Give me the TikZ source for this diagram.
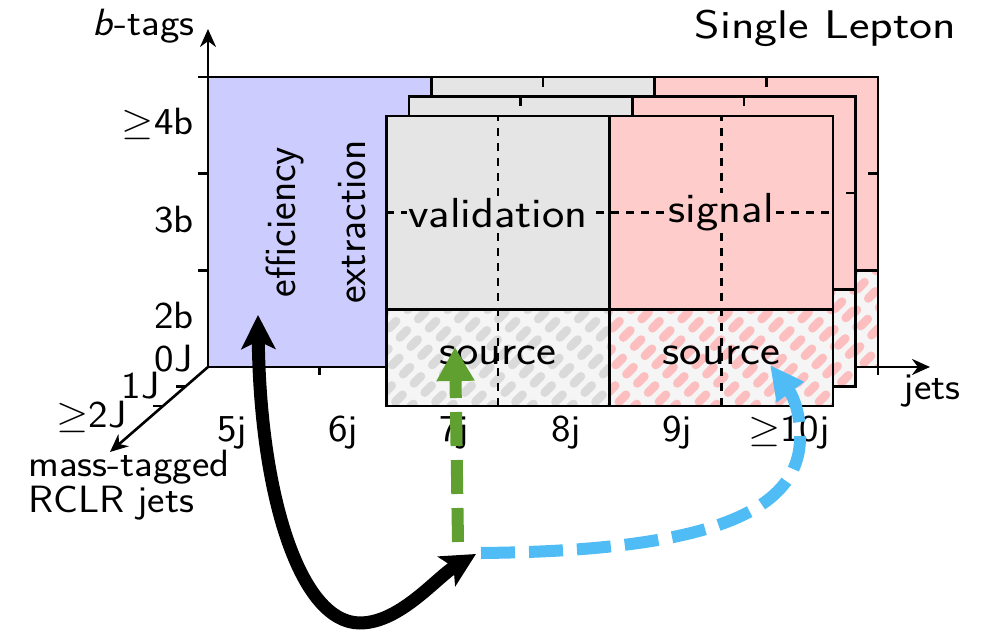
\RequirePackage{fix-cm}
\documentclass[tikz,border=0pt]{standalone}
\usepackage{xcolor}
\definecolor{lila}{RGB}{204,204,255}
\definecolor{grisClaro}{RGB}{229,229,229}
\definecolor{rosa}{RGB}{255,204,204}
\definecolor{grisRaya}{RGB}{218,218,218}
\definecolor{rosaRaya}{RGB}{252,190,190}
\definecolor{verde}{RGB}{96,160,48}
\definecolor{celeste}{RGB}{80,188,245}
\usetikzlibrary{arrows.meta,positioning,calc}
\tikzstyle{celda}  =[draw, line width=1.3pt]
\tikzstyle{marca}  =[line width=1.3pt]
\tikzstyle{rejilla}=[line width=1.3pt, dash pattern=on 4pt off 3.5pt]
\tikzstyle{eje}    =[line width=1.3pt, -{Stealth[length=9pt,width=8pt]}]
\tikzstyle{etiq}   =[font=\fontsize{19}{16.5}\selectfont\sffamily,
                     inner sep=0pt, xscale=1.09]
\tikzstyle{region} =[font=\fontsize{21}{35}\selectfont\sffamily,
                     inner sep=0.5pt]
\tikzstyle{flecha} =[line width=6pt]
\tikzstyle{discont}=[dash pattern=on 17pt off 7pt]

% rayado de las celdas fuente: color, x1, y1, x2, y2
\newcommand{\rayas}[5]{%
  \begin{scope}
    \clip (#2,#3) rectangle (#4,#5);
    \fill[white!96!black] (#2,#3) rectangle (#4,#5);
    \foreach \r in {0,...,17} {
      \pgfmathsetmacro{\fase}{mod(\r,2)*6.5}
      \draw[#1, line width=4.3pt, line cap=round,
            dash pattern=on 5pt off 8pt, dash phase=\fase pt]
        (#2-100+20*\r,#3-5) -- ++(160,160);
    }
  \end{scope}}

\begin{document}
\begin{tikzpicture}[x=0.5pt,y=0.5pt]
    \useasboundingbox (0,0) rectangle (984,635);

    % ejes
    \coordinate (origen) at (208,268);
    \coordinate (finJets) at (930,268);
    \coordinate (finB) at (208,606);
    \coordinate (finJ) at (110,183);
    \draw[eje] (origen) -- (finJets);
    \draw[eje] (origen) -- (finB);
    \draw[eje] (origen) -- (finJ);

    % region de eficiencia (capa 0J)
    \draw[celda, fill=lila] (208,268) rectangle (431.3,558);

    % capas 0J y 1J
    \foreach \k in {0,1} {
        \pgfmathsetmacro{\dx}{-22.5*\k}
        \pgfmathsetmacro{\dy}{-19.5*\k}
        \begin{scope}[shift={(\dx,\dy)}]
            \fill[grisClaro] (431.3,364.7) rectangle (654.7,558);
            \rayas{grisRaya}{431.3}{268}{654.7}{364.7}
            \fill[rosa] (654.7,364.7) rectangle (878,558);
            \rayas{rosaRaya}{654.7}{268}{878}{364.7}
            \draw[celda] (431.3,268) rectangle (878,558);
            \draw[marca] (654.7,268) -- (654.7,558) (431.3,364.7) -- (878,364.7);
            \foreach \x in {543,766.3}
                \draw[marca] (\x,558) -- (\x,548);
            \draw[marca] (878,461.4) -- (868,461.4);
        \end{scope}
    }
    \foreach \x in {319.7,878}
        \draw[marca] (\x,268) -- (\x,260);
    \foreach \y in {558,461.4,364.7}
        \draw[marca] (198,\y) -- (208,\y);
    \foreach \x/\y in {185.5/248.5,163/229}
        \draw[marca] (\x,\y) -- (\x-10,\y);

    % capa >=2J
    \fill[grisClaro] (386.3,325.7) rectangle (609.7,519);
    \rayas{grisRaya}{386.3}{229}{609.7}{325.7}
    \fill[rosa] (609.7,325.7) rectangle (833,519);
    \rayas{rosaRaya}{609.7}{229}{833}{325.7}
    \draw[rejilla] (498,229) -- (498,519) (721.3,229) -- (721.3,519)
        (386.3,422.3) -- (833,422.3);
    \draw[celda] (386.3,229) rectangle (833,519);
    \draw[marca] (609.7,229) -- (609.7,519) (386.3,325.7) -- (833,325.7);

    \node[region, xscale=1.13, fill=grisClaro] (validacion) at (498,422.3) {validation};
    \node[region, xscale=1.13, fill=rosa] (senal) at (721.3,422.3) {signal};
    \node[region, xscale=1.13] (fuenteVal) at (498,280) {source};
    \node[region, xscale=1.13] (fuenteSen) at (721.3,280) {source};
    \node[region, rotate=90, align=center] (eficiencia) at (316,413)
        {efficiency\\extraction};

    % etiquetas de los ejes
    \node[region, font=\fontsize{20}{24}\selectfont\sffamily, xscale=1.22,
          anchor=base west] (titulo) at (693,596) {Single Lepton};
    \node[etiq, anchor=base east] (btags) at (195,599) {\textit{b}-tags};
    \node[etiq, anchor=base east] (b4) at (194,500) {$\geq$4b};
    \node[etiq, anchor=base east] (b3) at (194,402) {3b};
    \node[etiq, anchor=base east] (b2) at (194,306) {2b};
    \node[etiq, anchor=base east] (J0) at (193,263) {0J};
    \node[etiq, anchor=base east] (J1) at (160,236) {1J};
    \node[etiq, anchor=base east] (J2) at (127,207) {$\geq$2J};
    \foreach \x/\t/\n in {232/5j/j5,343/6j/j6,454/7j/j7,566/8j/j8,
                          677/9j/j9,789/{$\geq$10j}/j10}
        \node[etiq, anchor=base] (\n) at (\x,193) {\t};
    \node[etiq, anchor=base] (jets) at (932,235) {jets};
    \node[etiq, anchor=base west, align=left] (rclr) at (28,122)
        {mass-tagged\\RCLR jets};

    % flechas
    \coordinate (puntaEf) at (258,320);
    \coordinate (cruce) at (476,81);
    \coordinate (baseVerde) at (458,93);
    \coordinate (puntaVal) at (455,288);
    \coordinate (baseAzul) at (481,82);
    \coordinate (puntaSen) at (770,270);
    \draw[flecha, line width=6.5pt,
          {Stealth[length=17pt,width=17pt,inset=4pt]}-{Stealth[length=17pt,width=17pt,inset=4pt]}]
        (puntaEf) .. controls (260,140) and (300,12) .. (360,12)
                  .. controls (400,12) and (437,58) .. (cruce);
    \draw[flecha, verde, discont, -{Triangle[length=17pt,width=18pt]}]
        (baseVerde) -- (puntaVal);
    \draw[flecha, celeste, discont, -{Triangle[length=17pt,width=16pt]}]
        (baseAzul) .. controls (700,84) and (802,120) .. (800,200)
                   .. controls (800,230) and (788,246) .. (puntaSen);

\end{tikzpicture}
\end{document}
